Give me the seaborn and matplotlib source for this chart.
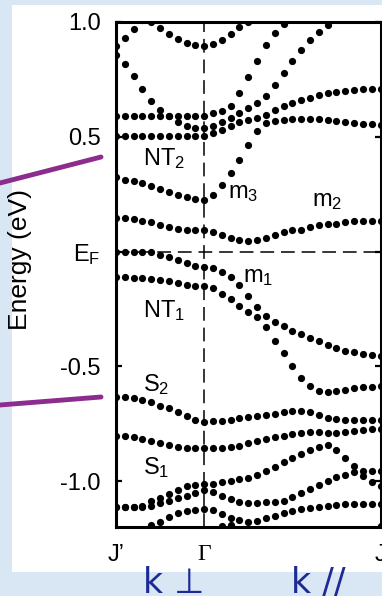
import numpy as np
import pandas as pd
import matplotlib
matplotlib.use("Agg")
import matplotlib.pyplot as plt
import seaborn as sns
from matplotlib.patches import Rectangle
from matplotlib.lines import Line2D

nan = np.nan
# k-point index along J' -> Gamma -> J
k = list(range(31))
k_ticks = [0, 10, 30]
k_tick_labels = ["J\u2019", "\u0393", "J"]
e_ticks = [1.0, 0.5, 0.0, -0.5, -1.0]
e_tick_labels = ["1.0", "0.5", "E$_{F}$", "-0.5", "-1.0"]

band_a = [0.895, 0.930, 0.969, 1.009, 1.000, 0.974, 0.948, 0.926, 0.908, 0.900, 0.895,
          0.904, 0.921, 0.948, 0.978, 1.000, 1.030, nan, nan, nan, nan, nan, nan, nan,
          nan, nan, nan, nan, nan, nan, nan]
band_b = [0.856, 0.817, 0.764, 0.707, 0.655, 0.616, 0.590, 0.563, 0.546, 0.537, 0.537,
          0.546, 0.563, 0.581, 0.603, 0.624, 0.646, 0.677, 0.725, 0.777, 0.830, 0.878,
          0.921, 0.956, 0.987, 1.017, nan, nan, nan, nan, nan]
band_l1 = [0.590, 0.590, 0.590, 0.590, 0.590, 0.590, 0.590, 0.590, 0.590, 0.590, 0.592,
           0.603, 0.611, 0.635, 0.690, 0.760, 0.830, 0.900, 0.952, 0.991, 1.030, nan,
           nan, nan, nan, nan, nan, nan, nan, nan, nan]
band_u = [0.504, 0.504, 0.504, 0.504, 0.504, 0.504, 0.504, 0.504, 0.504, 0.504, 0.505,
          0.515, 0.528, 0.546, 0.563, 0.572, 0.581, 0.594, 0.616, 0.633, 0.646, 0.659,
          0.668, 0.681, 0.690, 0.694, 0.699, 0.703, 0.707, 0.707, 0.707]
band_m3 = [0.325, 0.310, 0.306, 0.297, 0.284, 0.271, 0.258, 0.245, 0.236, 0.227, 0.223,
           0.245, 0.288, 0.341, 0.397, 0.463, 0.524, 0.559, 0.568, 0.572, 0.576, 0.576,
           0.576, 0.576, 0.572, 0.568, 0.563, 0.559, 0.555, 0.555, 0.550]
band_m2 = [0.148, 0.144, 0.140, 0.135, 0.127, 0.114, 0.105, 0.100, 0.096, 0.096, 0.096,
           0.087, 0.074, 0.061, 0.052, 0.048, 0.052, 0.061, 0.070, 0.083, 0.092, 0.096,
           0.105, 0.114, 0.118, 0.122, 0.127, 0.131, 0.131, 0.135, 0.135]
band_m1 = [0.000, -0.002, -0.004, -0.004, -0.004, -0.013, -0.022, -0.039, -0.052, -0.061,
           -0.066, -0.070, -0.087, -0.109, -0.144, -0.192, -0.240, -0.279, -0.306, -0.323,
           -0.345, -0.358, -0.376, -0.389, -0.406, -0.419, -0.432, -0.437, -0.445, -0.450,
           -0.454]
band_nt1 = [-0.109, -0.109, -0.114, -0.114, -0.118, -0.122, -0.127, -0.135, -0.144, -0.148,
            -0.148, -0.157, -0.183, -0.205, -0.236, -0.262, -0.284, -0.328, -0.389, -0.441,
            -0.498, -0.550, -0.585, -0.607, -0.611, -0.607, -0.603, -0.594, -0.590, -0.590,
            -0.585]
band_s2 = [-0.633, -0.633, -0.638, -0.646, -0.655, -0.672, -0.681, -0.699, -0.716, -0.734,
           -0.742, -0.738, -0.738, -0.734, -0.725, -0.721, -0.716, -0.712, -0.707, -0.699,
           -0.694, -0.694, -0.699, -0.712, -0.725, -0.729, -0.734, -0.734, -0.734, -0.734,
           -0.734]
band_s1 = [-0.803, -0.803, -0.808, -0.817, -0.825, -0.834, -0.843, -0.852, -0.856, -0.856,
           -0.856, -0.856, -0.856, -0.852, -0.847, -0.834, -0.825, -0.817, -0.808, -0.803,
           -0.795, -0.790, -0.786, -0.786, -0.790, -0.790, -0.786, -0.782, -0.777, -0.773,
           -0.773]
band_r1 = [-1.114, -1.114, -1.114, -1.109, -1.087, -1.074, -1.057, -1.039, -1.022, -1.017,
           -1.013, -1.013, -1.004, -1.000, -0.991, -0.987, -0.974, -0.956, -0.939, -0.917,
           -0.900, -0.882, -0.865, -0.852, -0.843, -0.865, -0.900, -0.934, -0.956, -0.956,
           -0.956]
band_r2 = [-1.114, -1.114, -1.114, -1.114, -1.109, -1.096, -1.087, -1.074, -1.066, -1.052,
           -1.039, -1.048, -1.066, -1.079, -1.092, -1.096, -1.096, -1.092, -1.092, -1.087,
           -1.070, -1.052, -1.035, -1.017, -1.000, -0.983, -0.974, -0.961, -0.978, -1.004,
           -1.022]
band_r3 = [nan, nan, nan, nan, -1.192, -1.179, -1.157, -1.140, -1.131, -1.127, -1.122,
           -1.127, -1.144, -1.162, -1.170, -1.179, -1.175, -1.162, -1.153, -1.140, -1.131,
           -1.122, -1.118, -1.114, -1.109, -1.105, -1.100, -1.100, -1.100, -1.100, -1.100]
band_r4 = [nan, nan, nan, nan, nan, nan, nan, nan, nan, nan, nan, nan, -1.197, -1.192, nan,
           nan, nan, nan, nan, nan, nan, nan, nan, nan, nan, nan, nan, nan, nan, nan, -1.197]

bands = [band_a, band_b, band_l1, band_u, band_m3, band_m2, band_m1, band_nt1,
         band_s2, band_s1, band_r1, band_r2, band_r3, band_r4]

rows = []
for bi, b in enumerate(bands):
    for kk, e in zip(k, b):
        if not np.isnan(e):
            rows.append((bi, kk, e))
df = pd.DataFrame(rows, columns=["band", "k", "E"])

sns.set_style("white")
plt.rcParams["font.family"] = ["Liberation Sans", "DejaVu Sans"]
plt.rcParams["mathtext.default"] = "regular"
plt.rcParams["text.color"] = "black"
plt.rcParams["axes.labelcolor"] = "black"
plt.rcParams["xtick.color"] = "black"
plt.rcParams["ytick.color"] = "black"

W, H = 382, 596
fig = plt.figure(figsize=(W / 100, H / 100), dpi=100)
fig.patch.set_facecolor("#d9e6f4")
fig.add_artist(Rectangle((12 / W, 1 - 572 / H), (W - 12) / W, (572 - 5) / H,
                         transform=fig.transFigure, facecolor="white",
                         edgecolor="none", zorder=0))

ax = fig.add_axes([116 / W, 1 - 527 / H, (380.5 - 116) / W, (527 - 22) / H])
ax.set_facecolor("white")

sns.scatterplot(data=df, x="k", y="E", ax=ax, color="black", s=27,
                linewidth=0, legend=False, zorder=3)

ax.axvline(10, color="black", lw=1.1, dashes=(9, 4.5), zorder=2)
ax.axhline(0, color="black", lw=1.1, dashes=(9, 4.5), zorder=2)

ax.set_xlim(0, 30)
ax.set_ylim(-1.2, 1.0)
ax.set_xticks(k_ticks)
ax.set_xticklabels(k_tick_labels)
xlabs = ax.get_xticklabels()
for i, t in enumerate(xlabs):
    if i == 1:
        t.set_fontfamily(["Liberation Serif", "DejaVu Serif"])
    else:
        t.set_fontfamily(["Liberation Sans", "DejaVu Sans"])
    t.set_fontsize(17)
    t.set_color("black")
ax.set_yticks(e_ticks)
ax.set_yticklabels(e_tick_labels)
ax.tick_params(axis="x", length=0, pad=12)
ax.tick_params(axis="y", direction="in", length=4, width=1.6, right=True,
               left=True, labelsize=17, pad=11, colors="black")
for sp in ax.spines.values():
    sp.set_linewidth(2.2)
    sp.set_color("black")
ax.set_xlabel("")
ax.set_ylabel("Energy (eV)", fontsize=19, color="black")
ax.yaxis.set_label_coords((32 - 116) / 264.5, (527 - 260) / 505)

lab_fs = 17
ax.text(3.06, 0.376, "NT$_2$", fontsize=lab_fs, ha="left", va="baseline")
ax.text(12.7, 0.231, "m$_3$", fontsize=lab_fs, ha="left", va="baseline")
ax.text(22.2, 0.197, "m$_2$", fontsize=lab_fs, ha="left", va="baseline")
ax.text(14.4, -0.131, "m$_1$", fontsize=lab_fs, ha="left", va="baseline")
ax.text(3.06, -0.284, "NT$_1$", fontsize=lab_fs, ha="left", va="baseline")
ax.text(3.06, -0.607, "S$_2$", fontsize=lab_fs, ha="left", va="baseline")
ax.text(3.06, -0.969, "S$_1$", fontsize=lab_fs, ha="left", va="baseline")

purple = "#8b2c8e"
fig.add_artist(Line2D([0 / W, 101 / W], [1 - 183 / H, 1 - 157 / H],
                      transform=fig.transFigure, color=purple, lw=3.5))
fig.add_artist(Line2D([0 / W, 101 / W], [1 - 405 / H, 1 - 397 / H],
                      transform=fig.transFigure, color=purple, lw=3.5))

blue = "#1c2a96"
fig.text(174 / W, 1 - 593 / H, "k \u22a5", color=blue, fontsize=25,
         family=["DejaVu Sans"], ha="center", va="baseline")
fig.text(318 / W, 1 - 593 / H, "k //", color=blue, fontsize=25,
         family=["DejaVu Sans"], ha="center", va="baseline")

fig.savefig("out.png", dpi=100, facecolor=fig.get_facecolor())
